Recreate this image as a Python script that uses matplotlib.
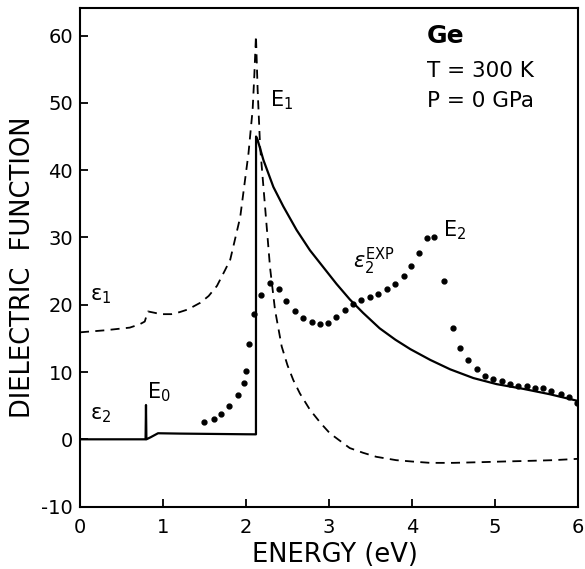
import numpy as np
import matplotlib
matplotlib.use('Agg')
import matplotlib.pyplot as plt

plt.rcParams['axes.unicode_minus'] = False

# epsilon_1 (dashed)
e1_energy = [0.0, 0.3, 0.6, 0.72, 0.78, 0.80, 0.82, 0.90, 0.97, 1.10, 1.20, 1.30, 1.45, 1.55, 1.65, 1.75,
             1.81, 1.93, 2.03, 2.08, 2.10, 2.12, 2.14, 2.17, 2.24, 2.29, 2.35, 2.43, 2.50, 2.57,
             2.65, 2.77, 2.90, 3.01, 3.25, 3.41, 3.57, 3.81, 4.00, 4.22, 4.50, 4.82, 5.10, 5.42, 5.70, 6.0]
e1_value = [15.9, 16.2, 16.6, 17.1, 17.5, 18.3, 19.0, 18.8, 18.6, 18.6, 18.9, 19.3, 20.3, 21.3, 22.8, 25.2,
            26.7, 33.0, 42.5, 49.0, 54.0, 60.0, 52.0, 43.5, 33.0, 25.5, 19.2, 13.8, 11.0, 8.8,
            6.8, 4.4, 2.4, 0.9, -1.3, -2.0, -2.6, -3.1, -3.3, -3.5, -3.5, -3.4, -3.3, -3.2, -3.1, -2.9]

# epsilon_2 (solid, theory)
e2_energy = [0.0, 0.79, 0.795, 0.80, 0.85, 0.94, 1.2, 1.6, 2.0, 2.12, 2.121, 2.14, 2.21, 2.33, 2.45, 2.61,
             2.77, 2.93, 3.09, 3.25, 3.41, 3.61, 3.80, 3.98, 4.22, 4.46, 4.74, 5.02, 5.34, 5.66, 6.0]
e2_value = [0.0, 0.0, 5.1, 0.0, 0.3, 0.9, 0.85, 0.8, 0.75, 0.74, 45.0, 44.5, 41.5, 37.5, 34.6, 31.1,
            28.1, 25.6, 23.1, 20.8, 18.8, 16.5, 14.8, 13.4, 11.8, 10.4, 9.1, 8.2, 7.5, 6.7, 5.7]

# epsilon_2 experiment (dots)
exp_energy = [1.49, 1.61, 1.70, 1.80, 1.90, 1.97, 2.00, 2.04, 2.10, 2.18, 2.29, 2.40, 2.48, 2.59, 2.69,
              2.79, 2.89, 2.99, 3.09, 3.19, 3.29, 3.39, 3.49, 3.59, 3.70, 3.80, 3.90, 3.99, 4.09, 4.18,
              4.27, 4.38, 4.49, 4.58, 4.68, 4.78, 4.88, 4.98, 5.08, 5.18, 5.28, 5.38, 5.48, 5.58, 5.68,
              5.79, 5.89, 5.99]
exp_value = [2.5, 3.0, 3.7, 4.9, 6.6, 8.3, 10.2, 14.2, 18.6, 21.5, 23.2, 22.3, 20.5, 19.1, 18.0,
             17.4, 17.2, 17.3, 18.2, 19.2, 20.1, 20.7, 21.1, 21.6, 22.3, 23.1, 24.3, 25.7, 27.7, 29.9,
             30.1, 23.5, 16.6, 13.5, 11.8, 10.4, 9.4, 8.9, 8.6, 8.2, 7.9, 7.9, 7.7, 7.6, 7.2,
             6.8, 6.3, 5.4]

fig = plt.figure(figsize=(5.85, 5.69), dpi=100)
ax = fig.add_axes([80/585, 1-506.6/569, 498/585, 498.6/569])

ax.plot(e1_energy, e1_value, color='black', lw=1.3, linestyle=(0, (5, 3.5)))
ax.plot(e2_energy, e2_value, color='black', lw=1.6)
ax.plot(exp_energy, exp_value, linestyle='none', marker='o', color='black', markersize=3.5)

ax.set_xlim(0, 6)
ax.set_ylim(-10, 64.1)
ax.set_xticks(range(0, 7))
ax.set_yticks(range(-10, 61, 10))
ax.tick_params(direction='in', length=6, width=1.3, labelsize=14, top=False, right=False)
ax.tick_params(axis='x', pad=8)
ax.tick_params(axis='y', pad=5)
for s in ax.spines.values():
    s.set_linewidth(1.5)

ax.set_xlabel('ENERGY (eV)', fontsize=18.5, ha='center', va='center')
ax.set_ylabel('DIELECTRIC  FUNCTION', fontsize=18.5, ha='center', va='center')
ax.xaxis.set_label_coords(0.512, -0.097)
ax.yaxis.set_label_coords(-0.114, 0.48)

fs = 15
ax.text(0.12, 20.7, 'ε$_1$', fontsize=fs)
ax.text(0.12, 2.9, 'ε$_2$', fontsize=fs)
ax.text(0.81, 6.1, 'E$_0$', fontsize=fs)
ax.text(2.29, 49.5, 'E$_1$', fontsize=fs)
ax.text(4.37, 30.2, 'E$_2$', fontsize=fs)
ax.text(3.29, 25.5, r'$\varepsilon_2^{\rm EXP}$', fontsize=fs)
ax.text(4.18, 58.9, 'Ge', fontsize=18, fontweight='bold')
ax.text(4.18, 53.9, 'T = 300 K', fontsize=15.5)
ax.text(4.18, 49.4, 'P = 0 GPa', fontsize=15.5)

fig.savefig('out.png', dpi=100)
